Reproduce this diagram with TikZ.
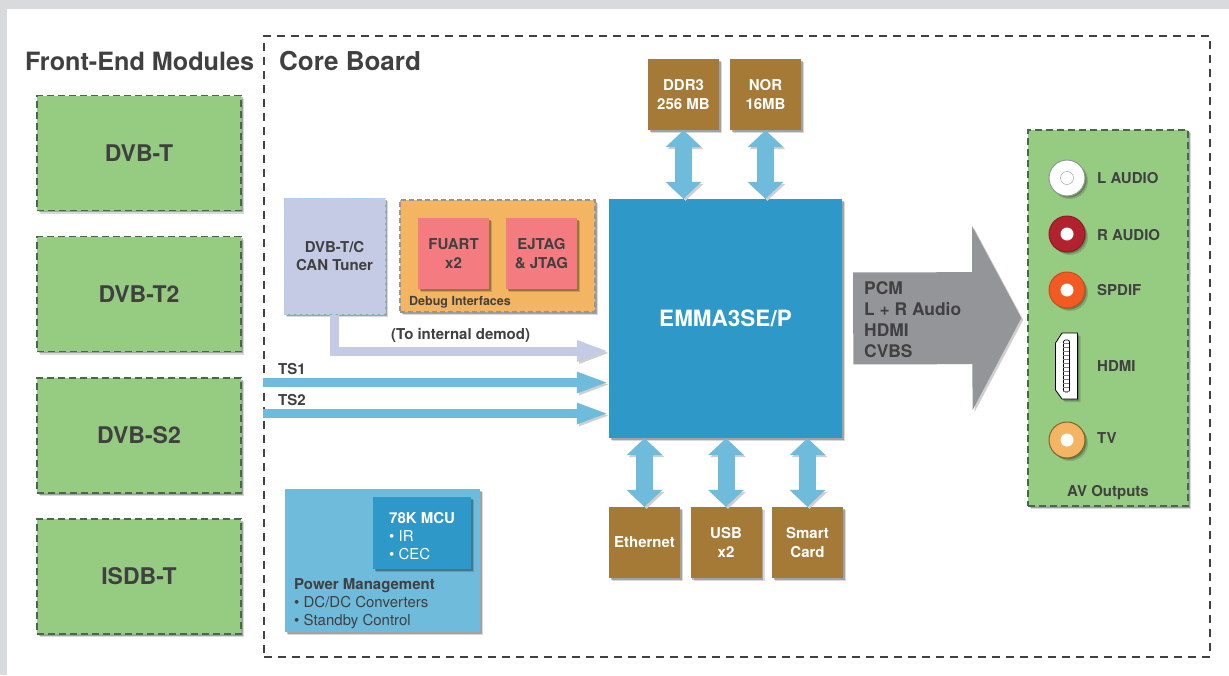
\documentclass[tikz,border=0pt]{standalone}
\usepackage{fontspec}
\setmainfont{TeX Gyre Heros}
\usetikzlibrary{arrows.meta,shadows}
\definecolor{inkgray}{HTML}{404041}
\definecolor{modgreen}{HTML}{96CB82}
\definecolor{dashgreen}{HTML}{48684A}
\definecolor{brownbox}{HTML}{A47A36}
\definecolor{chipblue}{HTML}{2E98C8}
\definecolor{busblue}{HTML}{6FBBDC}
\definecolor{tunerblue}{HTML}{C5CBE4}
\definecolor{tunerdash}{HTML}{A9CFEA}
\definecolor{debugorange}{HTML}{F4B563}
\definecolor{portpink}{HTML}{F47C80}
\definecolor{avgray}{HTML}{939598}
\definecolor{pagegray}{HTML}{D9DADC}
\definecolor{shadegray}{HTML}{CFCFCF}
\definecolor{jackred}{HTML}{B2222E}
\definecolor{jackorange}{HTML}{F15A22}
\tikzset{
  softshadow/.style={drop shadow={shadow xshift=3pt,shadow yshift=-3pt,opacity=.15,fill=black},
    drop shadow={shadow xshift=1.5pt,shadow yshift=-1.5pt,opacity=.25,fill=black}},
  box/.style={inner sep=0pt,align=center,font=\fontsize{15}{18.5}\selectfont\bfseries},
  module/.style={box,softshadow,fill=modgreen,draw=dashgreen,line width=1.4pt,dash pattern=on 7pt off 4pt,
    minimum width=204pt,minimum height=115pt,text=inkgray,font=\fontsize{23}{25}\selectfont\bfseries},
  mem/.style={box,softshadow,fill=brownbox,text=white,minimum width=71pt,minimum height=71pt},
  port/.style={box,softshadow,fill=portpink,text=inkgray,minimum width=71pt,minimum height=71pt},
  heading/.style={inner sep=0pt,text=inkgray,font=\fontsize{25.2}{28}\selectfont\bfseries},
  label/.style={inner sep=0pt,text=inkgray,font=\fontsize{15}{18}\selectfont\bfseries},
  jack/.style={circle,softshadow,inner sep=0pt,minimum size=36pt,line width=1pt},
  hole/.style={circle,fill=white,inner sep=0pt,minimum size=13pt},
  bus/.style={busblue,line width=17pt,{Triangle[width=35pt,length=17pt]}-{Triangle[width=35pt,length=17pt]},
    preaction={draw=shadegray,transform canvas={xshift=2pt,yshift=-2pt}}},
  feed/.style={line width=9pt,-{Triangle[width=19pt,length=32pt]},
    preaction={draw=shadegray,transform canvas={xshift=2pt,yshift=-2pt}}}
}
\begin{document}
\begin{tikzpicture}[x=1pt,y=-1pt]
\useasboundingbox (0,0) rectangle (1229,675);
\fill[pagegray] (0,0) rectangle (1229,675);
\fill[white] (7,9) rectangle (1229,675);

\node[heading,anchor=west] (frontend) at (25,61) {Front-End Modules};
\node[module] (dvbt) at (139,153) {DVB-T};
\node[module] (dvbttwo) at (139,294) {DVB-T2};
\node[module] (dvbstwo) at (139,435.5) {DVB-S2};
\node[module] (isdbt) at (139,576.5) {ISDB-T};

\node[draw=inkgray,line width=1.5pt,dash pattern=on 8pt off 6pt,inner sep=0pt,minimum width=946pt,minimum height=621pt] (core) at (737,346.5) {};
\node[heading,anchor=west,font=\fontsize{26}{28}\selectfont\bfseries] (coretitle) at (279,61) {Core Board};

\node[mem] (ddr) at (683.5,94.5) {DDR3\\256 MB};
\node[mem] (nor) at (765.5,94.5) {NOR\\16MB};
\node[box,softshadow,fill=chipblue,text=white,minimum width=233pt,minimum height=239pt,font=\fontsize{22.5}{25}\selectfont\bfseries] (emma) at (725.5,318.5) {\raisebox{-1.5pt}{EMMA3SE/P}};
\node[mem] (eth) at (644.5,542.5) {Ethernet};
\node[mem] (usb) at (726,542.5) {USB\\x2};
\node[mem] (smart) at (807.5,542.5) {Smart\\Card};

\node[box,softshadow,fill=tunerblue,draw=tunerdash,line width=1pt,dash pattern=on 4pt off 2pt,text=inkgray,minimum width=101pt,minimum height=116pt] (tuner) at (334.5,256) {DVB-T/C\\CAN Tuner};
\node[box,softshadow,fill=debugorange,draw=avgray,line width=1.4pt,dash pattern=on 5pt off 3pt,minimum width=195pt,minimum height=112pt] (debug) at (497.5,256) {};
\node[port] (fuart) at (453.5,253.5) {FUART\\x2};
\node[port] (ejtag) at (541.5,253.5) {EJTAG\\\& JTAG};
\node[inner sep=0pt,anchor=west,text=inkgray,font=\fontsize{12.5}{14}\selectfont\bfseries] (debuglabel) at (409,302) {Debug Interfaces};

\coordinate (demodin) at (609,351);
\coordinate (tsone) at (263,382.5);
\coordinate (tstwo) at (263,413.5);
\draw[feed,tunerblue] (tuner.south) |- (demodin);
\draw[feed,busblue] (tsone) -- (tsone -| emma.west);
\draw[feed,busblue] (tstwo) -- (tstwo -| emma.west);
\node[label,anchor=west] (demodlabel) at (391,335.5) {(To internal demod)};
\node[label,anchor=west] (tsonelabel) at (278,369) {TS1};
\node[label,anchor=west] (tstwolabel) at (278,400) {TS2};

\draw[bus] (ddr.south) -- (ddr.south |- emma.north);
\draw[bus] (nor.south) -- (nor.south |- emma.north);
\draw[bus] (eth.north) -- (eth.north |- emma.south);
\draw[bus] (usb.north) -- (usb.north |- emma.south);
\draw[bus] (smart.north) -- (smart.north |- emma.south);

\node[box,softshadow,fill=busblue,minimum width=195pt,minimum height=143pt] (power) at (382.5,560.5) {};
\node[box,softshadow,fill=chipblue,minimum width=98pt,minimum height=72pt] (mcu) at (422,533) {};
\node[anchor=west,inner sep=0pt,align=left,text=white,font=\fontsize{15}{18}\selectfont] (mcutext) at (389,536.5) {\textbf{78K MCU}\\• IR\\• CEC};
\node[anchor=west,inner sep=0pt,align=left,text=inkgray,font=\fontsize{15}{18}\selectfont] (powertext) at (294,603.5) {\textbf{Power Management}\\• DC/DC Converters\\• Standby Control};

\node[box,softshadow,fill=modgreen,draw=dashgreen,line width=1.4pt,dash pattern=on 7pt off 4pt,minimum width=160pt,minimum height=376pt] (av) at (1108,318) {};
\draw[avgray,line width=92pt,-{Triangle[width=182pt,length=49pt]},shorten <=11pt,shorten >=6pt,
  preaction={draw=shadegray,transform canvas={xshift=2pt,yshift=-2pt}}] (emma.east) -- (av.west);
\node[anchor=west,inner sep=0pt,align=left,text=inkgray,font=\fontsize{17.4}{21}\selectfont\bfseries] (avtext) at (864,320) {PCM\\L + R Audio\\HDMI\\CVBS};

\node[jack,fill=white,draw=avgray] (laudio) at (1067,178) {};
\node[hole,draw=avgray] (laudiohole) at (laudio) {};
\node[jack,fill=jackred,draw=jackred!80!black] (raudio) at (1067,234) {};
\node[hole] (raudiohole) at (raudio) {};
\node[jack,fill=jackorange,draw=jackorange!85!black] (spdif) at (1067,290) {};
\node[hole] (spdifhole) at (spdif) {};
\node[jack,fill=debugorange,draw=brownbox!80!black] (tv) at (1067,440) {};
\node[hole] (tvhole) at (tv) {};

\draw[fill=white,line width=.8pt,softshadow]
  (1062,333) -- (1077.5,333) -- (1077.5,399) -- (1062,399) -- (1055.5,390) -- (1055.5,343) -- cycle;
\draw[rounded corners=2pt,line width=.7pt,fill=white] (1063.5,340) rectangle (1069.5,392);
\foreach \y in {343,347,...,391}
  \draw[gray,line width=.7pt] (1063,\y) -- (1069,\y);

\node[label,anchor=west] (llabel) at (1097,178) {L AUDIO};
\node[label,anchor=west] (rlabel) at (1097,235) {R AUDIO};
\node[label,anchor=west] (spdiflabel) at (1097,290) {SPDIF};
\node[label,anchor=west] (hdmilabel) at (1097,366) {HDMI};
\node[label,anchor=west] (tvlabel) at (1097,438) {TV};
\node[label] (avlabel) at (1108,492.5) {AV Outputs};
\end{tikzpicture}
\end{document}
